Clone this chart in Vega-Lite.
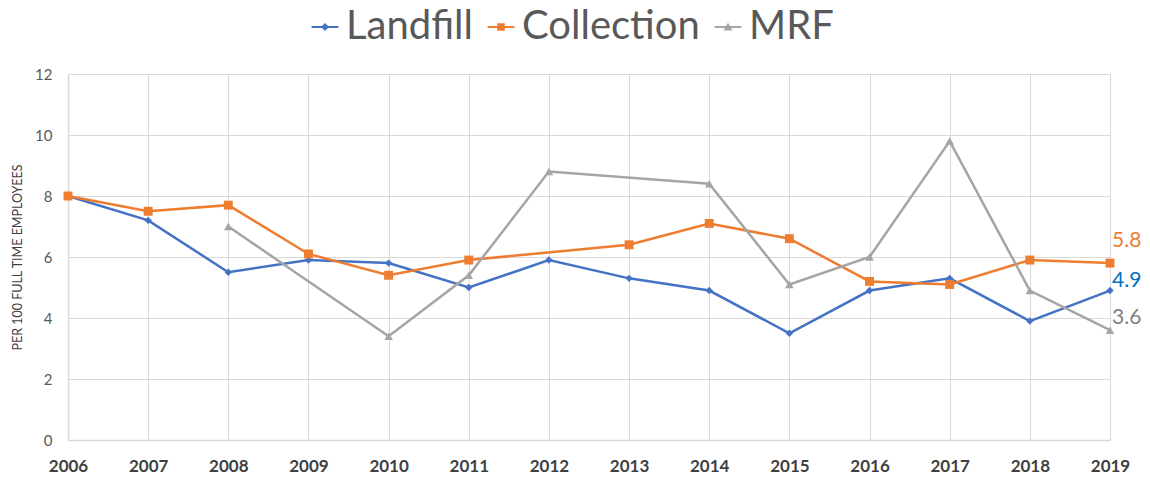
{
  "$schema": "https://vega.github.io/schema/vega-lite/v6.json",
  "autosize": {"type": "none"},
  "width": 1042,
  "height": 366,
  "padding": {"left": 68, "top": 74, "right": 40, "bottom": 45},
  "background": "white",
  "config": {
    "view": {"stroke": null},
    "font": "Lato"
  },
  "data": {
    "values": [
      {"year": 2006, "series": "Landfill", "value": 8.0},
      {"year": 2007, "series": "Landfill", "value": 7.2},
      {"year": 2008, "series": "Landfill", "value": 5.5},
      {"year": 2009, "series": "Landfill", "value": 5.9},
      {"year": 2010, "series": "Landfill", "value": 5.8},
      {"year": 2011, "series": "Landfill", "value": 5.0},
      {"year": 2012, "series": "Landfill", "value": 5.9},
      {"year": 2013, "series": "Landfill", "value": 5.3},
      {"year": 2014, "series": "Landfill", "value": 4.9},
      {"year": 2015, "series": "Landfill", "value": 3.5},
      {"year": 2016, "series": "Landfill", "value": 4.9},
      {"year": 2017, "series": "Landfill", "value": 5.3},
      {"year": 2018, "series": "Landfill", "value": 3.9},
      {"year": 2019, "series": "Landfill", "value": 4.9},
      {"year": 2006, "series": "Collection", "value": 8.0},
      {"year": 2007, "series": "Collection", "value": 7.5},
      {"year": 2008, "series": "Collection", "value": 7.7},
      {"year": 2009, "series": "Collection", "value": 6.1},
      {"year": 2010, "series": "Collection", "value": 5.4},
      {"year": 2011, "series": "Collection", "value": 5.9},
      {"year": 2013, "series": "Collection", "value": 6.4},
      {"year": 2014, "series": "Collection", "value": 7.1},
      {"year": 2015, "series": "Collection", "value": 6.6},
      {"year": 2016, "series": "Collection", "value": 5.2},
      {"year": 2017, "series": "Collection", "value": 5.1},
      {"year": 2018, "series": "Collection", "value": 5.9},
      {"year": 2019, "series": "Collection", "value": 5.8},
      {"year": 2008, "series": "MRF", "value": 7.0},
      {"year": 2010, "series": "MRF", "value": 3.4},
      {"year": 2011, "series": "MRF", "value": 5.4},
      {"year": 2012, "series": "MRF", "value": 8.8},
      {"year": 2014, "series": "MRF", "value": 8.4},
      {"year": 2015, "series": "MRF", "value": 5.1},
      {"year": 2016, "series": "MRF", "value": 6.0},
      {"year": 2017, "series": "MRF", "value": 9.8},
      {"year": 2018, "series": "MRF", "value": 4.9},
      {"year": 2019, "series": "MRF", "value": 3.6}
    ]
  },
  "encoding": {
    "x": {
      "field": "year", "type": "ordinal",
      "scale": {"type": "point", "padding": 0, "domain": [2006,2007,2008,2009,2010,2011,2012,2013,2014,2015,2016,2017,2018,2019]},
      "axis": {
        "title": null, "labelAngle": 0, "labelFontSize": 17, "labelFontWeight": "bold",
        "labelColor": "#404040", "labelPadding": 18, "ticks": false,
        "grid": true, "gridColor": "#d9d9d9", "domainColor": "#d9d9d9", "domainWidth": 1.5
      }
    },
    "y": {
      "field": "value", "type": "quantitative",
      "scale": {"domain": [0, 12], "nice": false},
      "axis": {
        "title": "PER 100 FULL TIME EMPLOYEES", "titleFontSize": 12.5, "titleFontWeight": "normal",
        "titleColor": "#404040", "titlePadding": 10, "titleFont": "Lato",
        "values": [0,2,4,6,8,10,12], "labelFontSize": 15, "labelColor": "#595959",
        "labelPadding": 16, "ticks": false, "grid": true, "gridColor": "#d9d9d9",
        "domainColor": "#d9d9d9", "domainWidth": 1.5
      }
    },
    "color": {
      "field": "series", "type": "nominal",
      "scale": {"domain": ["Landfill", "Collection", "MRF"], "range": ["#4472C4", "#ED7D31", "#A5A5A5"]},
      "legend": {
        "orient": "none", "legendX": 237, "legendY": -67, "direction": "horizontal",
        "title": null, "labelFontSize": 40, "labelColor": "#595959", "labelFont": "Lato",
        "labelLimit": 400,
        "symbolSize": 720, "columnPadding": 8, "labelOffset": 1, "symbolStrokeWidth": 0,
        "encode": {
          "symbols": {
            "update": {
              "shape": {"signal": "datum.value === 'Landfill' ? 'M-1,-0.08H1V0.08H-1ZM0,-0.3L0.3,0L0,0.3L-0.3,0Z' : datum.value === 'Collection' ? 'M-1,-0.08H1V0.08H-1ZM-0.28,-0.28H0.28V0.28H-0.28Z' : 'M-1,-0.08H1V0.08H-1ZM0,-0.32L0.34,0.26H-0.34Z'"},
              "fill": {"scale": "color", "field": "value"},
              "opacity": {"value": 1},
              "fillOpacity": {"value": 1}
            }
          }
        }
      }
    }
  },
  "layer": [
    {
      "mark": {"type": "line", "strokeWidth": 2.5}
    },
    {
      "transform": [{"filter": "datum.series == 'Landfill'"}],
      "mark": {"type": "point", "filled": true, "opacity": 1, "shape": "diamond", "size": 55}
    },
    {
      "transform": [{"filter": "datum.series == 'Collection'"}],
      "mark": {"type": "point", "filled": true, "opacity": 1, "shape": "square", "size": 80}
    },
    {
      "transform": [{"filter": "datum.series == 'MRF'"}],
      "mark": {"type": "point", "filled": true, "opacity": 1, "shape": "triangle-up", "size": 75}
    },
    {
      "transform": [{"filter": "datum.year == 2019 && datum.series == 'Collection'"}],
      "mark": {"type": "text", "align": "left", "baseline": "middle", "dx": 2, "dy": -22, "fontSize": 21},
      "encoding": {"text": {"field": "value", "type": "quantitative", "format": ".1f"}, "color": {"value": "#ED7D31"}}
    },
    {
      "transform": [{"filter": "datum.year == 2019 && datum.series == 'Landfill'"}],
      "mark": {"type": "text", "align": "left", "baseline": "middle", "dx": 2, "dy": -10, "fontSize": 21},
      "encoding": {"text": {"field": "value", "type": "quantitative", "format": ".1f"}, "color": {"value": "#0070C0"}}
    },
    {
      "transform": [{"filter": "datum.year == 2019 && datum.series == 'MRF'"}],
      "mark": {"type": "text", "align": "left", "baseline": "middle", "dx": 2, "dy": -12, "fontSize": 21},
      "encoding": {"text": {"field": "value", "type": "quantitative", "format": ".1f"}, "color": {"value": "#7F7F7F"}}
    }
  ]
}
